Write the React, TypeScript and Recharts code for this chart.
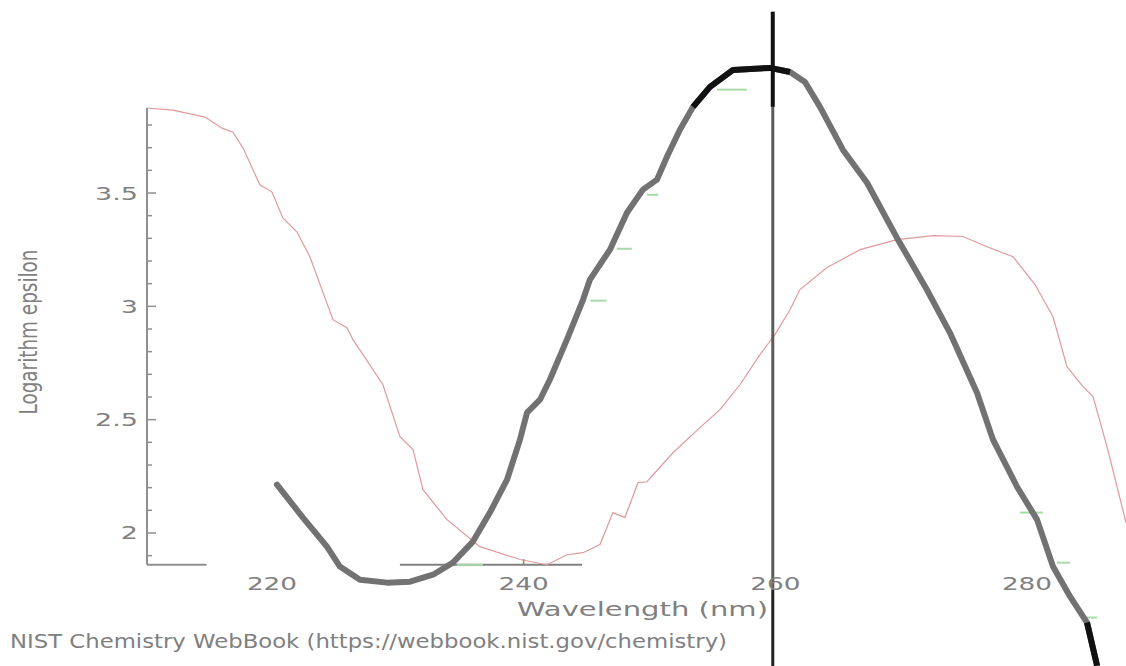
import {
  ComposedChart,
  Line,
  ReferenceLine,
  Scatter,
  XAxis,
  YAxis,
} from 'recharts';

// Pink trace: wavelength (nm) and log epsilon
const redWl = [
  210.07, 212.13, 214.68, 216.03, 216.9, 217.7, 219.05, 220.0, 220.87, 221.99, 223.02, 224.85,
  225.96, 226.44, 228.82, 230.17, 231.21, 232.0, 233.91, 236.53, 239.71, 241.86, 243.44, 244.72,
  246.07, 247.1, 248.05, 249.09, 249.8, 251.87, 254.01, 255.6, 257.19, 258.78, 259.97, 261.17,
  261.96, 264.11, 266.73, 269.67, 272.53, 274.92, 276.82, 278.89, 280.64, 282.07, 283.18, 284.45,
  285.25, 286.36, 287.87,
];
const redLogE = [
  3.875, 3.866, 3.835, 3.786, 3.768, 3.698, 3.535, 3.504, 3.39, 3.328, 3.218, 2.941,
  2.906, 2.853, 2.654, 2.425, 2.368, 2.191, 2.059, 1.94, 1.883, 1.86, 1.904, 1.913,
  1.949, 2.09, 2.068, 2.222, 2.226, 2.354, 2.465, 2.544, 2.654, 2.787, 2.875, 2.985,
  3.074, 3.171, 3.25, 3.294, 3.312, 3.308, 3.263, 3.219, 3.096, 2.954, 2.734, 2.646,
  2.602, 2.381, 2.046,
];

// Heavy trace
const blackWl = [
  220.4, 222.46, 224.37, 225.4, 226.99, 229.14, 230.97, 232.8, 234.38, 235.97, 237.32, 238.68,
  239.71, 240.27, 241.3, 242.09, 243.44, 244.72, 245.27, 246.86, 248.21, 249.48, 250.6, 251.39,
  252.42, 253.46, 254.81, 256.64, 259.58, 261.17, 262.36, 263.55, 265.38, 267.29, 269.67, 272.05,
  273.88, 276.03, 277.3, 279.21, 280.8, 282.07, 283.42, 284.77, 285.57,
];
const blackLogE = [
  2.213, 2.068, 1.94, 1.852, 1.794, 1.781, 1.785, 1.816, 1.869, 1.962, 2.09, 2.235,
  2.412, 2.531, 2.588, 2.677, 2.853, 3.029, 3.118, 3.25, 3.413, 3.515, 3.559, 3.66,
  3.779, 3.88, 3.968, 4.043, 4.052, 4.034, 3.99, 3.88, 3.69, 3.545, 3.302, 3.073,
  2.883, 2.619, 2.412, 2.204, 2.059, 1.852, 1.72, 1.605, 1.415,
];

// Short green dashes: start wl, end wl, level
const greenFrom = [255.37, 249.8, 247.4, 245.3, 234.7, 279.44, 282.39, 284.45];
const greenTo = [257.75, 250.7, 248.6, 246.6, 236.77, 281.27, 283.42, 285.57];
const greenLogE = [3.956, 3.492, 3.254, 3.025, 1.86, 2.09, 1.869, 1.627];

const markerWl = 259.8;

const xTicks = [220, 240, 260, 280];
const yTicks = [
  1.9, 2, 2.1, 2.2, 2.3, 2.4, 2.5, 2.6, 2.7, 2.8, 2.9, 3, 3.1, 3.2, 3.3, 3.4, 3.5, 3.6, 3.7, 3.8,
];

const WL_DOMAIN: [number, number] = [210.07, 287.87];
const LOGE_DOMAIN: [number, number] = [1.4132, 4.3515];
const AXIS_LOGE_MIN = 1.86;
const AXIS_LOGE_MAX = 3.875;

const W = 1126;
const H = 666;
const PLOT_LEFT = 147;
const GREY = '#808080';
const FONT = 'DejaVu Sans, sans-serif';

const redData = redWl.map((wl, i) => ({ wl, logE: redLogE[i] }));
const blackData = blackWl.map((wl, i) => ({ wl, logE: blackLogE[i] }));
const peakData = blackData.filter((d) => d.wl >= 253.4 && d.wl <= 261.2);
const tailData = blackData.filter((d) => d.wl >= 284.7);
const xTickData = xTicks.map((wl) => ({ wl, logE: AXIS_LOGE_MIN, label: String(wl) }));

function isMajor(v: number) {
  return Math.abs(v * 2 - Math.round(v * 2)) < 1e-6;
}

function YTick(props: any) {
  const { y, payload } = props;
  const v = payload.value as number;
  const major = isMajor(v);
  return (
    <g>
      <line x1={PLOT_LEFT} x2={PLOT_LEFT + (major ? 9 : 5)} y1={y} y2={y} stroke="#909090" strokeWidth={1.5} />
      {major && (
        <text
          transform={`translate(${PLOT_LEFT - 9},${y + 6.5}) scale(1.5,1)`}
          textAnchor="end"
          fontSize={18}
          fontFamily={FONT}
          fill={GREY}
        >
          {String(v)}
        </text>
      )}
    </g>
  );
}

function XTickLabel(props: any) {
  const { cx, cy, payload } = props;
  return (
    <text
      transform={`translate(${cx},${cy + 25}) scale(1.46,1)`}
      textAnchor="middle"
      fontSize={18}
      fontFamily={FONT}
      fill={GREY}
    >
      {payload.label}
    </text>
  );
}

export default function App() {
  return (
    <div style={{ position: 'absolute', left: 0, top: 0, width: W, height: H, background: '#fff' }}>
      <ComposedChart width={W} height={H} margin={{ top: 0, right: 0, bottom: 0, left: 0 }}>
        <XAxis type="number" dataKey="wl" domain={WL_DOMAIN} allowDataOverflow hide />
        <YAxis
          type="number"
          dataKey="logE"
          domain={LOGE_DOMAIN}
          allowDataOverflow
          width={PLOT_LEFT}
          ticks={yTicks}
          interval={0}
          tick={<YTick />}
          tickLine={false}
          axisLine={false}
        />

        {/* axis frame, only partly drawn */}
        <ReferenceLine
          segment={[{ x: WL_DOMAIN[0], y: AXIS_LOGE_MIN }, { x: WL_DOMAIN[0], y: AXIS_LOGE_MAX }]}
          stroke="#909090"
          strokeWidth={2}
        />
        <ReferenceLine
          segment={[{ x: WL_DOMAIN[0], y: AXIS_LOGE_MIN }, { x: 214.8, y: AXIS_LOGE_MIN }]}
          stroke="#909090"
          strokeWidth={2}
        />
        <ReferenceLine
          segment={[{ x: 230.17, y: AXIS_LOGE_MIN }, { x: 244.64, y: AXIS_LOGE_MIN }]}
          stroke="#808080"
          strokeWidth={2}
        />
        <ReferenceLine
          segment={[{ x: 240, y: AXIS_LOGE_MIN }, { x: 240, y: AXIS_LOGE_MIN + 0.025 }]}
          stroke="#808080"
          strokeWidth={1.5}
        />

        {greenFrom.map((from, i) => (
          <ReferenceLine
            key={`g${i}`}
            segment={[{ x: from, y: greenLogE[i] }, { x: greenTo[i], y: greenLogE[i] }]}
            stroke="#a9dba9"
            strokeWidth={2}
          />
        ))}

        <Line
          data={redData}
          dataKey="logE"
          type="linear"
          stroke="#e09a9a"
          strokeWidth={1.2}
          dot={false}
          isAnimationActive={false}
        />

        {/* marker at 260 nm */}
        <ReferenceLine
          segment={[{ x: markerWl, y: 1.75 }, { x: markerWl, y: 3.88 }]}
          stroke="#5c5c5c"
          strokeWidth={3}
        />
        <ReferenceLine
          segment={[{ x: markerWl, y: LOGE_DOMAIN[0] }, { x: markerWl, y: 1.75 }]}
          stroke="#222"
          strokeWidth={3}
        />

        <Line
          data={blackData}
          dataKey="logE"
          type="linear"
          stroke="#727272"
          strokeWidth={6}
          strokeLinejoin="round"
          strokeLinecap="round"
          dot={false}
          isAnimationActive={false}
        />
        <Line
          data={peakData}
          dataKey="logE"
          type="linear"
          stroke="#111"
          strokeWidth={6}
          strokeLinejoin="round"
          dot={false}
          isAnimationActive={false}
        />
        <Line
          data={tailData}
          dataKey="logE"
          type="linear"
          stroke="#111"
          strokeWidth={6}
          dot={false}
          isAnimationActive={false}
        />
        <ReferenceLine
          segment={[{ x: markerWl, y: 3.88 }, { x: markerWl, y: 4.3 }]}
          stroke="#111"
          strokeWidth={4}
        />

        <Scatter data={xTickData} dataKey="logE" shape={<XTickLabel />} isAnimationActive={false} />
      </ComposedChart>

      <svg
        width={W}
        height={H}
        style={{ position: 'absolute', left: 0, top: 0, pointerEvents: 'none' }}
      >
        <text
          transform="translate(37,332) rotate(-90) scale(1,1.4)"
          textAnchor="middle"
          fontSize={18}
          fontFamily={FONT}
          fill={GREY}
          textLength={165}
          lengthAdjust="spacingAndGlyphs"
        >
          Logarithm epsilon
        </text>
        <text
          x={517}
          y={616}
          fontSize={19}
          fontFamily={FONT}
          fill={GREY}
          textLength={251}
          lengthAdjust="spacingAndGlyphs"
        >
          Wavelength (nm)
        </text>
        <text
          x={10}
          y={648}
          fontSize={19}
          fontFamily={FONT}
          fill={GREY}
          textLength={717}
          lengthAdjust="spacingAndGlyphs"
        >
          NIST Chemistry WebBook (https://webbook.nist.gov/chemistry)
        </text>
      </svg>
    </div>
  );
}
